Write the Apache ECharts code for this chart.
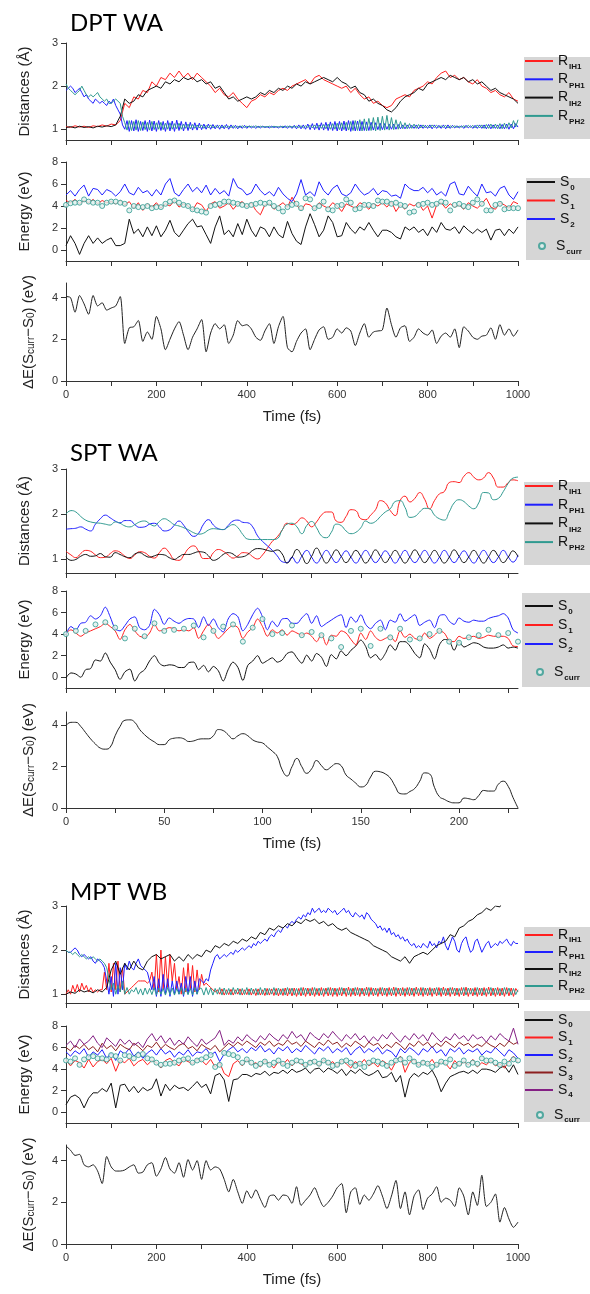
<!DOCTYPE html>
<html>
<head>
<meta charset="utf-8">
<script src="https://cdn.jsdelivr.net/npm/echarts@6/dist/echarts.min.js"></script>
<style>html,body{margin:0;padding:0;background:#fff}#c{width:590px;height:1294px}</style>
</head>
<body>
<div id="c"></div>
<script>
// ---------- sample times ----------
function range(a,b,s){const r=[];for(let x=a;x<=b+1e-9;x+=s)r.push(+x.toFixed(2));return r;}
const T10 = range(0,1000,10);   // 101 samples
const T5  = range(0,1000,5);    // 201 samples
const TS  = range(0,230,2.5);   // 93 samples
const TS5 = range(0,230,5);     // 47 samples

// ---------- tick labels ----------
const xTicksLong = range(0,1000,100), xLabelsLong = [0,200,400,600,800,1000];
const xTicksShort = range(0,225,25),  xLabelsShort = [0,50,100,150,200];
const distTicks = [1,2,3], energyTicks = [0,2,4,6,8], dETicks = [0,2,4];

// ================= DPT WA =================
const dpt_RIH1 = [1.06,1.04,1.08,1.05,1.07,1.04,1.08,1.06,1.1,1.07,
 1.12,1.1,1.2,1.6,1.5,1.75,1.7,1.9,1.85,2.1,
 2.0,2.2,2.15,2.3,2.2,2.35,2.2,2.3,2.15,2.3,
 2.2,2.1,2.0,1.85,1.95,1.8,1.75,1.85,1.7,1.6,
 1.5,1.65,1.7,1.8,1.75,1.85,1.8,1.9,1.95,1.9,
 2.0,2.05,2.1,2.15,2.05,2.2,2.25,2.15,2.1,2.05,
 2.0,1.95,2.0,1.85,1.95,1.8,1.7,1.75,1.6,1.65,
 1.55,1.5,1.55,1.7,1.75,1.8,1.75,1.9,1.95,2.0,
 2.1,2.05,2.2,2.3,2.35,2.2,2.25,2.15,2.2,2.1,
 2.05,2.15,2.0,1.95,1.85,1.9,1.8,1.75,1.85,1.7,
 1.65];
const dpt_RIH2 = [1.04,1.06,1.03,1.07,1.04,1.06,1.03,1.07,1.05,1.08,
 1.06,1.1,1.3,1.7,1.6,1.65,1.8,1.75,1.9,1.95,
 2.0,1.95,2.1,2.05,2.15,2.1,2.2,2.15,2.2,2.1,
 2.15,2.05,2.1,1.95,2.0,1.85,1.7,1.75,1.65,1.7,
 1.75,1.7,1.75,1.85,1.8,1.9,1.85,1.95,1.9,2.0,
 1.95,2.05,2.0,2.1,2.05,2.1,2.15,2.2,2.15,2.1,
 2.2,2.1,2.05,1.95,2.0,1.85,1.8,1.65,1.7,1.6,
 1.55,1.45,1.4,1.5,1.65,1.75,1.8,1.85,1.95,1.9,
 2.05,2.1,2.15,2.2,2.15,2.25,2.2,2.15,2.2,2.1,
 2.15,2.05,2.1,2.0,1.9,1.95,1.85,1.8,1.75,1.7,
 1.6];
const dpt_RPH1 = [1.9,1.95,2.0,1.95,1.85,1.9,1.95,1.85,1.75,1.8, 1.7,1.65,1.6,1.7,1.65,1.6,1.65,1.6,1.55,1.65,
 1.6,1.7,1.55,1.45,1.35,1.1,1.0,1.2,0.95,1.2, 0.96,1.22,0.95,1.18,0.97,1.2,0.95,1.21,0.96,1.19,
 0.95,1.2,0.97,1.18,0.95,1.2,0.96,1.19,0.95,1.21, 0.97,1.18,0.96,1.17,0.97,1.16,0.98,1.15,0.98,1.14,
 0.99,1.12,1.0,1.12,1.0,1.11,1.01,1.1,1.0,1.1, 1.01,1.11,1.0,1.1,1.02,1.09,1.01,1.08,1.02,1.09,
 1.02,1.08,1.03,1.07,1.02,1.07,1.03,1.07,1.04,1.06, 1.03,1.07,1.04,1.06,1.03,1.07,1.03,1.08,1.02,1.08,
 1.02,1.09,1.01,1.1,1.01,1.1,1.0,1.12,0.99,1.13, 0.99,1.14,0.98,1.15,0.98,1.16,0.97,1.17,0.97,1.18,
 0.96,1.18,0.96,1.19,0.96,1.2,0.95,1.2,0.96,1.19, 0.96,1.18,0.97,1.17,0.97,1.16,0.98,1.15,0.99,1.14,
 0.99,1.13,1.0,1.12,1.0,1.12,1.0,1.11,1.01,1.1, 1.01,1.1,1.02,1.09,1.02,1.1,1.01,1.1,1.02,1.09,
 1.02,1.1,1.01,1.1,1.02,1.09,1.02,1.1,1.01,1.1, 1.02,1.09,1.03,1.08,1.03,1.08,1.02,1.09,1.03,1.08,
 1.02,1.09,1.02,1.1,1.02,1.1,1.01,1.11,1.01,1.1, 1.02,1.1,1.01,1.11,1.01,1.12,1.0,1.12,1.01,1.13,
 1.05];
const dpt_RPH2 = [2.05,1.95,1.9,1.85,1.8,1.85,1.9,2.0,1.9,1.8, 1.75,1.8,1.75,1.8,1.85,1.75,1.7,1.65,1.7,1.6,
 1.6,1.65,1.7,1.65,1.6,1.3,1.15,0.98,1.2,0.97, 1.18,0.98,1.2,0.97,1.17,0.99,1.16,0.98,1.18,0.99,
 1.15,1.0,1.16,0.99,1.14,1.0,1.15,1.0,1.13,1.01, 1.14,1.0,1.12,1.02,1.12,1.01,1.11,1.02,1.1,1.03,
 1.1,1.02,1.09,1.03,1.1,1.03,1.08,1.04,1.09,1.03, 1.08,1.04,1.07,1.04,1.08,1.03,1.07,1.04,1.08,1.04,
 1.07,1.05,1.07,1.04,1.08,1.04,1.07,1.05,1.06,1.05, 1.07,1.04,1.07,1.05,1.06,1.05,1.07,1.04,1.07,1.05,
 1.06,1.05,1.07,1.04,1.08,1.03,1.08,1.04,1.09,1.03, 1.1,1.02,1.1,1.02,1.11,1.01,1.12,1.0,1.13,1.0,
 1.14,0.99,1.15,0.99,1.16,0.98,1.18,0.97,1.2,0.97, 1.22,0.96,1.24,0.96,1.25,0.97,1.27,0.96,1.28,0.97,
 1.3,0.98,1.32,0.98,1.27,0.99,1.22,1.0,1.18,1.01, 1.15,1.01,1.13,1.02,1.12,1.02,1.11,1.03,1.1,1.03,
 1.09,1.03,1.1,1.04,1.09,1.04,1.08,1.04,1.09,1.03, 1.08,1.04,1.08,1.04,1.07,1.05,1.08,1.04,1.09,1.04,
 1.09,1.03,1.1,1.03,1.1,1.02,1.11,1.02,1.12,1.02, 1.12,1.01,1.13,1.01,1.14,1.02,1.15,1.03,1.2,1.05,
 1.22];
const dpt_S0 = [0.4,1.3,0.6,-0.4,0.6,1.3,0.6,1.1,0.6,0.9,
 1.1,0.4,0.4,0.6,2.8,1.5,1.9,1.2,2.1,1.3,
 2.2,1.2,1.8,2.7,1.6,1.2,1.8,2.4,2.8,2.1,
 2.2,1.4,0.6,2.1,3.1,1.4,1.8,1.2,2.4,1.4,
 2.8,1.8,1.2,2.1,1.9,1.2,2.1,1.4,1.1,2.6,
 1.5,0.8,0.5,2.1,3.3,2.3,1.2,1.8,3.1,2.5,
 1.2,1.3,2.5,1.9,1.5,2.1,1.8,2.5,1.8,1.2,
 1.8,1.8,1.6,1.2,1.0,2.1,1.8,2.1,1.6,1.9,
 1.3,2.1,1.6,2.5,1.9,1.8,2.1,1.5,2.2,1.8,
 1.5,1.9,1.6,1.9,0.9,1.8,1.9,1.3,1.9,1.5,
 2.1];
const dpt_S1 = [4.5,4.3,4.6,4.2,4.5,4.3,4.6,4.2,4.5,4.3,
 4.4,4.2,4.5,4.1,4.4,3.8,4.3,3.6,4.2,3.9,
 4.3,3.8,4.2,4.0,4.5,3.9,4.2,4.0,3.6,4.3,
 4.1,3.5,4.2,4.4,3.8,4.0,4.3,3.7,4.2,4.4,
 3.9,4.3,3.6,3.2,4.1,4.2,3.7,4.0,4.3,3.9,
 4.8,4.1,3.6,4.2,4.1,3.7,4.3,4.0,3.8,4.3,
 4.0,3.5,4.2,4.0,3.8,4.3,4.1,3.7,4.2,4.0,
 4.3,3.9,4.4,3.5,4.1,3.7,4.2,4.0,4.3,3.6,
 4.0,2.9,4.1,4.3,3.8,4.2,3.9,4.1,3.7,4.3,
 4.0,3.8,4.2,4.7,3.9,3.7,4.3,4.1,3.8,4.4,
 4.2];
const dpt_S2 = [5.0,5.4,4.9,5.5,5.9,4.9,5.6,5.5,5.0,5.5,
 5.3,4.9,5.3,6.0,5.2,5.0,5.7,5.2,5.4,4.9,
 5.5,5.0,6.0,6.5,5.2,4.9,5.5,6.0,5.3,5.7,
 5.2,5.9,5.0,5.6,5.1,5.4,4.9,6.5,5.7,5.5,
 5.0,5.2,6.0,5.4,5.0,5.3,4.9,5.7,5.1,4.7,
 4.4,5.1,6.4,5.0,5.3,4.9,6.2,5.4,5.0,5.6,
 5.9,5.1,4.9,5.2,6.0,5.4,5.0,5.2,5.6,5.0,
 5.4,5.3,4.9,5.0,4.7,6.0,5.6,5.4,5.4,5.7,
 5.2,5.6,5.0,5.3,4.9,6.0,6.2,5.1,5.0,5.8,
 5.3,4.9,6.0,5.2,5.3,4.9,5.6,5.8,5.0,4.6,
 5.3];
const dpt_Scurr = [4.1,4.25,4.3,4.3,4.6,4.4,4.3,4.3,4.0,4.3,
 4.4,4.4,4.3,4.2,3.6,4.0,3.9,3.9,4.0,3.8,
 3.9,3.9,4.2,4.4,4.5,4.3,4.1,4.0,3.7,3.6,
 3.5,3.4,4.0,4.1,4.2,4.4,4.4,4.3,4.2,4.1,
 4.0,4.1,4.2,4.3,4.2,4.3,4.0,3.8,3.5,3.9,
 4.1,4.2,3.8,4.7,4.6,3.8,4.0,4.4,3.7,3.6,
 4.0,4.1,4.6,4.3,3.7,3.8,4.1,4.1,4.0,4.5,
 4.4,4.4,4.2,4.3,4.1,4.0,3.4,3.5,4.1,4.2,
 4.3,4.1,4.2,4.4,4.3,3.6,4.1,4.2,4.0,3.9,
 4.3,4.6,4.2,3.6,3.6,4.1,4.2,3.7,3.8,3.8,
 3.8];
const dpt_dE = [4.05,4.0,3.3,4.1,3.7,3.2,4.1,3.6,3.75,3.4,
 3.5,3.6,4.05,1.8,2.55,2.6,2.9,1.9,2.35,2.0,
 3.1,2.5,1.5,2.0,2.5,2.85,2.2,1.5,2.1,2.5,
 2.95,1.4,2.3,2.75,2.5,2.7,1.8,2.2,2.9,2.65,
 2.7,2.5,2.1,1.95,2.4,2.75,1.8,2.6,3.1,1.6,
 1.4,1.9,2.3,2.5,1.5,2.0,2.45,2.6,2.0,2.1,
 2.5,2.3,2.55,2.4,1.7,2.3,2.75,2.1,2.35,2.4,
 2.45,3.5,2.7,2.1,2.55,2.65,1.9,2.1,2.5,2.3,
 2.2,2.45,1.8,2.15,2.3,2.1,2.5,1.6,2.6,2.4,
 2.1,2.0,2.15,2.2,2.55,2.0,2.7,2.2,2.5,2.15,
 2.45];

// ================= SPT WA (step 2.5 fs) =================
const spt_RIH1 = [1.18,1.1,1.04,1.13,1.2,1.18,1.1,1.04,1.05,1.13, 1.19,1.16,1.07,1.02,1.1,1.17,1.15,1.07,1.03,1.15,
 1.25,1.15,1.0,0.98,1.1,1.25,1.3,1.18,1.02,1.02, 1.15,1.22,1.18,1.1,1.03,1.08,1.15,1.14,1.06,1.01,
 1.1,1.25,1.4,1.5,1.65,1.8,1.77,1.82,1.92,1.85, 1.72,1.83,1.98,2.05,2.05,1.85,1.82,1.95,2.1,2.08,
 1.9,1.88,1.98,2.1,2.3,2.25,2.08,1.97,2.3,2.4, 2.27,2.35,2.48,2.33,2.12,2.3,2.45,2.5,2.7,2.72,
 2.7,2.84,2.92,2.82,2.76,2.8,2.92,2.8,2.6,2.6, 2.7,2.76,2.74];
const spt_RPH1 = [1.67,1.68,1.69,1.72,1.67,1.63,1.78,1.9,1.98,1.92, 1.85,1.81,1.86,1.86,1.77,1.71,1.72,1.78,1.8,1.72,
 1.63,1.65,1.75,1.85,1.75,1.6,1.51,1.58,1.78,1.88, 1.76,1.68,1.66,1.75,1.85,1.87,1.82,1.81,1.72,1.52,
 1.4,1.3,1.2,1.08,0.95,0.93,1.05,0.92,1.07,1.2, 1.05,0.92,1.06,1.2,1.06,0.93,1.06,1.19,1.05,0.92,
 1.06,1.2,1.06,0.93,1.05,1.19,1.06,0.92,1.06,1.2, 1.05,0.93,1.06,1.2,1.06,0.92,1.05,1.2,1.06,0.93,
 1.06,1.19,1.05,0.92,1.06,1.2,1.06,0.93,1.05,1.2, 1.06,0.94,1.1];
const spt_RIH2 = [1.06,0.98,1.0,1.07,1.11,1.07,1.08,1.13,1.06,1.05, 1.15,1.11,1.06,1.04,1.12,1.15,1.09,1.05,1.08,1.11,
 1.1,1.04,1.0,1.06,1.11,1.11,1.14,1.17,1.16,1.08, 0.98,1.02,1.11,1.15,1.12,1.05,1.06,1.11,1.2,1.24,
 1.23,1.2,1.18,1.21,1.12,0.92,1.05,1.22,1.08,0.91, 1.07,1.25,1.08,0.92,1.06,1.21,1.07,0.93,1.06,1.2,
 1.07,0.92,1.05,1.21,1.07,0.93,1.06,1.2,1.06,0.92, 1.06,1.21,1.07,0.93,1.06,1.2,1.06,0.92,1.05,1.21,
 1.07,0.93,1.06,1.2,1.06,0.92,1.06,1.2,1.07,0.93, 1.05,1.19,1.06];
const spt_RPH2 = [2.0,2.08,2.05,1.95,1.87,1.83,1.81,1.8,1.78,1.76, 1.83,1.8,1.74,1.72,1.77,1.83,1.85,1.79,1.74,1.84,
 1.9,1.85,1.77,1.74,1.7,1.65,1.59,1.56,1.58,1.65, 1.68,1.67,1.66,1.72,1.77,1.7,1.55,1.45,1.44,1.44,
 1.44,1.44,1.44,1.46,1.65,1.78,1.8,1.72,1.57,1.75, 1.84,1.7,1.52,1.48,1.6,1.78,1.75,1.63,1.57,1.6,
 1.7,1.85,1.8,1.84,1.95,2.05,2.12,2.28,2.3,2.15, 1.93,1.95,2.05,2.13,2.12,1.98,1.9,1.87,2.05,2.25,
 2.32,2.28,2.18,2.12,2.25,2.48,2.47,2.32,2.35,2.5, 2.68,2.8,2.82];
const spt_S0 = [-0.05,0.4,0.3,0.0,0.7,0.8,1.6,1.5,2.25,1.4, 0.7,-0.2,0.5,0.75,-0.35,0.35,0.7,1.5,2.0,1.3,
 1.05,1.15,1.1,0.9,0.9,1.35,1.4,0.7,1.1,0.5, 1.0,0.6,-0.35,0.7,1.4,0.9,-0.3,1.1,1.5,2.0,
 1.3,1.55,1.8,1.4,1.6,2.2,2.35,1.8,1.3,2.05, 1.5,2.2,1.85,1.0,2.1,1.7,2.45,2.0,2.5,2.9,
 3.45,2.85,1.8,2.1,1.6,2.2,3.0,2.5,3.3,3.3, 2.9,2.2,1.8,3.1,2.6,1.7,3.0,3.5,3.4,2.5,
 3.3,2.8,3.0,3.2,3.1,2.8,2.7,2.7,2.8,3.0, 2.7,2.8,2.7];
const spt_S1 = [4.1,4.4,4.1,3.8,4.1,4.3,4.5,4.7,5.0,4.7, 4.3,3.5,4.4,4.9,4.3,3.8,3.7,4.1,4.9,4.3,
 4.4,4.6,4.5,4.3,4.4,4.3,4.6,3.6,4.3,4.9, 4.3,3.6,4.0,4.5,4.8,4.6,3.6,4.2,4.6,5.4,
 4.7,3.8,4.4,4.1,4.4,3.9,4.3,4.1,3.9,4.1, 3.8,3.3,4.0,3.0,3.9,3.8,4.3,4.1,3.5,3.0,
 4.1,3.5,4.3,3.7,3.4,3.6,3.8,3.3,4.3,3.7, 4.0,3.6,3.5,4.1,3.6,3.9,4.3,4.1,3.4,3.3,
 3.8,3.6,3.7,3.8,3.6,3.7,3.9,3.8,3.8,3.8, 3.6,2.9,2.85];
const spt_S2 = [4.0,4.7,4.4,5.0,5.1,5.7,5.4,5.7,6.5,5.6, 4.5,4.3,4.8,5.4,5.6,4.6,4.4,4.8,6.3,5.8,
 4.9,5.5,5.2,5.0,5.3,5.45,5.4,4.6,5.6,4.8, 5.4,4.6,4.2,5.4,5.9,5.6,4.3,4.9,5.8,6.4,
 5.6,4.4,5.2,4.7,5.4,5.45,5.0,5.0,5.5,5.9, 5.0,5.7,4.7,5.0,5.3,5.6,5.8,4.6,5.6,5.1,
 5.8,4.9,4.5,5.0,5.3,4.4,5.3,5.1,5.9,5.2, 5.5,5.8,4.8,5.1,5.3,4.6,5.7,5.8,5.2,4.9,
 5.5,5.2,5.1,5.3,5.2,5.2,5.45,5.6,5.7,5.9, 5.5,4.4,4.1];
const spt_Scurr = [4.0,4.3,4.3,4.9,5.1,4.6,3.6,4.5,3.8,5.0,
 4.3,4.4,4.5,4.8,3.7,4.3,4.7,4.9,3.3,4.6,
 5.4,4.0,4.1,4.8,3.9,4.2,3.9,3.6,2.8,4.3,
 4.5,2.9,4.5,3.7,4.5,3.5,3.6,4.0,4.3,3.3,
 3.2,3.7,3.9,4.4,3.9,4.1,3.3];
const spt_dE = [4.0,4.15,4.15,3.95,3.65,3.35,3.1,2.9,2.85,2.95, 3.5,3.95,4.25,4.27,4.15,3.8,3.55,3.35,3.2,3.07,
 3.07,3.3,3.38,3.4,3.35,3.22,3.25,3.33,3.35,3.35, 3.5,3.8,3.75,3.55,3.35,3.5,3.6,3.5,3.3,3.2,
 3.15,2.95,2.75,2.5,1.85,1.55,2.0,2.4,2.0,1.68, 1.9,2.3,2.05,1.85,2.0,2.15,2.05,1.6,1.4,1.2,
 1.02,1.1,1.5,1.78,1.75,1.65,1.45,1.05,0.7,0.68, 0.8,0.95,1.3,1.7,1.65,1.0,0.55,0.42,0.3,0.25,
 0.25,0.48,0.45,0.4,0.6,0.85,0.82,0.82,1.15,1.3, 1.05,0.5,0.0];

// ================= MPT WB =================
const mpt_RIH1 = [1.0,1.1,1.0,1.2,1.05,1.22,1.05,1.25,1.1,1.2, 1.05,1.15,1.05,1.1,1.05,1.1,1.1,1.5,1.1,1.7,
 1.05,1.7,1.1,1.75,1.05,1.6,1.0,1.05,1.1,1.15, 1.2,1.25,1.3,1.3,1.3,1.3,1.25,1.3,1.5,1.1,
 1.9,1.05,2.0,1.1,1.85,1.15,1.9,1.3,1.7,1.1, 1.4,1.0,1.6,1.05,1.7,1.1,1.65,1.05,1.55,1.1,
 1.45,1.2,1.25,1.2,1.15,1.1,1.05,1.1,1.0,1.12, 0.98,1.1,0.99,1.11,0.98,1.1,1.0,1.12,0.98,1.1,
 0.99,1.12,0.98,1.11,0.97,1.12,0.98,1.1,0.97,1.13, 0.98,1.12,0.97,1.13,0.96,1.12,0.97,1.14,0.96,1.13,
 0.96,1.14,0.95,1.13,0.96,1.15,0.95,1.14,0.96,1.15, 0.95,1.13,0.96,1.15,0.95,1.14,0.96,1.15,0.95,1.14,
 0.95,1.15,0.96,1.14,0.95,1.16,0.95,1.14,0.96,1.15, 0.95,1.14,0.96,1.16,0.95,1.15,0.96,1.14,0.95,1.15,
 0.96,1.14,0.95,1.15,0.96,1.16,0.95,1.14,0.96,1.15, 0.95,1.15,0.96,1.14,0.95,1.16,0.96,1.15,0.95,1.14,
 0.96,1.15,0.95,1.14,0.96,1.15,0.95,1.16,0.96,1.14, 0.95,1.15,0.96,1.14,0.95,1.15,0.96,1.16,0.95,1.14,
 0.96,1.15,0.95,1.14,0.96,1.15,0.95,1.16,0.96,1.14, 0.95,1.15,0.96,1.14,0.95,1.15,0.96,1.14,0.95,1.13,
 1.05];
const mpt_RPH1 = [2.0,1.95,1.95,2.0,2.05,2.0,1.9,1.85,1.9,1.85, 1.8,1.85,1.75,1.7,1.8,1.75,1.7,1.6,1.3,1.0,
 1.4,0.95,1.7,1.0,1.6,1.1,1.7,1.55,1.75,1.6, 1.55,1.7,1.8,1.65,1.6,1.55,1.5,1.3,1.1,1.4,
 0.95,1.35,0.95,1.45,1.0,1.35,0.95,1.3,1.0,1.3, 1.0,1.25,0.95,1.4,1.0,1.4,0.95,1.3,1.0,1.35,
 1.3,1.25,1.35,1.3,1.55,1.7,1.85,1.9,1.8,1.85, 1.9,1.85,1.9,1.95,1.9,2.0,1.95,2.0,2.05,2.0,
 2.05,2.1,2.05,2.15,2.1,2.2,2.15,2.2,2.25,2.2, 2.3,2.35,2.3,2.4,2.45,2.4,2.5,2.55,2.5,2.6,
 2.65,2.6,2.7,2.75,2.7,2.8,2.75,2.85,2.8,2.95, 2.85,2.9,2.95,2.85,2.9,2.85,2.95,2.9,2.85,2.9,
 2.8,2.85,2.9,2.95,2.85,2.9,2.8,2.75,2.85,2.8, 2.75,2.8,2.7,2.85,2.8,2.7,2.65,2.6,2.5,2.55,
 2.45,2.5,2.4,2.5,2.35,2.4,2.3,2.35,2.25,2.3, 2.2,2.25,2.15,2.1,2.15,2.05,2.1,2.05,2.15,2.1,
 2.05,2.2,2.1,2.15,2.05,2.2,2.15,2.3,2.1,2.0, 2.15,2.3,2.2,2.0,1.95,2.15,2.25,2.3,2.1,1.95,
 2.0,2.2,2.25,2.1,1.95,2.05,2.15,2.2,2.05,2.1, 2.15,2.1,2.2,2.15,2.2,2.25,2.15,2.1,2.2,2.15,
 2.15];
const mpt_RIH2 = [1.0,1.05,1.02,1.1,1.05,1.08,1.03,1.1,1.05,1.15,
 1.55,1.75,1.45,1.7,1.55,1.75,1.6,1.55,1.75,1.85,
 1.9,1.8,1.85,1.9,1.75,1.85,1.75,1.9,1.8,1.9,
 1.85,2.0,1.95,2.1,2.05,2.15,2.1,2.2,2.15,2.25,
 2.2,2.3,2.25,2.4,2.35,2.5,2.45,2.55,2.5,2.6,
 2.55,2.65,2.6,2.7,2.65,2.7,2.6,2.65,2.55,2.6,
 2.5,2.45,2.5,2.4,2.35,2.3,2.25,2.2,2.1,2.05,
 2.0,1.95,1.85,1.8,1.75,1.85,1.7,1.85,1.9,1.95,
 1.9,2.0,2.1,2.15,2.2,2.35,2.3,2.5,2.55,2.65,
 2.7,2.8,2.85,2.95,2.9,3.0,2.98,3.2,3.25,3.3,
 3.35];
const mpt_RPH2 = [2.0,1.95,1.95,1.9,1.95,1.9,1.85,1.9,1.85,1.8, 1.85,1.8,1.85,1.8,1.75,1.8,1.75,1.7,1.6,1.35,
 1.1,1.25,1.0,1.2,1.05,1.3,1.0,1.15,1.0,1.1, 1.05,1.15,1.0,1.12,0.98,1.14,1.0,1.13,0.99,1.15,
 0.98,1.14,1.0,1.13,0.98,1.15,0.99,1.14,0.98,1.13, 1.0,1.15,0.98,1.14,0.99,1.13,0.98,1.15,1.0,1.14,
 1.13,0.98,1.15,0.99,1.14,0.98,1.13,1.0,1.15,0.98, 1.14,0.99,1.13,0.98,1.15,1.0,1.14,0.98,1.13,0.99,
 1.15,0.98,1.14,1.0,1.13,0.98,1.15,0.99,1.14,0.98, 1.13,1.0,1.15,0.98,1.14,0.99,1.13,0.98,1.15,1.0,
 1.14,0.98,1.13,0.99,1.15,0.98,1.14,1.0,1.13,0.98, 1.15,0.99,1.14,0.98,1.13,1.0,1.15,0.98,1.14,0.99,
 1.13,0.98,1.15,1.0,1.14,0.98,1.13,0.99,1.15,0.98, 1.14,1.0,1.13,0.98,1.15,0.99,1.14,0.98,1.13,1.0,
 1.15,0.98,1.14,0.99,1.13,0.98,1.15,1.0,1.14,0.98, 1.13,0.99,1.15,0.98,1.14,1.0,1.13,0.98,1.15,0.99,
 1.14,0.98,1.13,1.0,1.15,0.98,1.14,0.99,1.13,0.98, 1.15,1.0,1.14,0.98,1.13,0.99,1.15,0.98,1.14,1.0,
 1.13,0.98,1.15,0.99,1.14,0.98,1.13,1.0,1.15,0.98, 1.14,0.99,1.13,0.98,1.15,1.0,1.14,0.98,1.13,0.99,
 1.1];
const mpt_S0 = [0.7,1.4,1.6,1.3,0.4,1.3,1.8,1.8,2.2,1.9,
 2.7,0.4,2.5,2.6,1.9,2.4,1.8,2.3,2.0,2.2,
 3.1,1.5,2.6,2.0,2.5,2.2,2.3,2.0,2.4,2.85,
 2.3,2.6,1.7,3.4,3.6,3.0,1.0,3.0,3.1,3.5,
 3.5,3.3,3.6,3.5,3.8,3.4,3.7,3.6,3.9,3.6,
 4.0,3.7,3.85,4.1,3.6,4.0,4.1,3.7,4.1,3.9,
 3.6,4.0,3.4,3.9,3.6,4.0,3.6,3.4,3.6,3.9,
 3.2,3.3,3.7,2.8,3.4,1.4,3.1,3.6,3.3,3.7,
 3.5,3.9,3.1,1.9,2.7,3.3,3.5,3.7,3.8,3.6,
 3.9,3.6,4.0,4.0,3.9,3.7,4.1,4.3,3.7,4.4,
 3.5];
const mpt_S1 = [4.8,4.3,4.8,4.6,4.1,4.9,4.2,4.7,4.9,4.5,
 5.0,3.8,4.8,4.6,5.0,4.3,4.7,4.9,4.4,4.8,
 4.6,4.1,4.8,5.0,4.6,4.3,4.9,4.7,4.5,4.9,
 4.8,4.4,4.9,4.2,4.6,3.6,3.3,4.5,4.8,4.3,
 4.9,4.4,4.6,4.2,4.8,4.5,4.1,4.7,4.4,4.9,
 4.3,4.7,4.5,4.2,4.8,4.6,4.3,4.9,4.4,4.7,
 4.2,4.8,4.5,4.1,4.7,4.4,4.9,4.3,4.6,4.2,
 4.8,4.5,3.9,4.7,5.2,3.7,4.6,4.9,4.3,4.8,
 4.4,4.9,4.2,4.7,4.5,4.0,4.8,4.3,4.7,4.4,
 4.9,4.2,4.6,4.4,4.8,4.3,4.5,4.1,4.7,5.2,
 4.6];
const mpt_S2 = [5.6,5.2,5.7,5.4,5.9,5.1,5.6,5.3,5.8,5.0,
 5.5,4.8,5.7,5.4,5.9,5.2,5.6,5.0,5.5,5.8,
 5.3,5.9,5.4,5.7,5.1,5.6,5.3,5.8,5.2,5.6,
 5.5,5.9,5.3,5.6,4.7,5.4,5.8,6.1,5.6,5.9,
 5.5,6.0,5.7,6.2,5.6,5.9,5.4,6.0,5.7,6.1,
 5.5,5.9,5.6,6.2,5.8,5.4,6.0,5.7,6.1,5.5,
 5.9,5.6,6.0,5.3,5.8,6.1,5.5,5.9,5.6,6.0,
 5.4,5.8,5.6,5.1,5.9,5.5,6.0,5.7,5.3,5.9,
 5.6,6.1,5.5,5.8,5.2,5.9,5.6,6.0,5.4,5.8,
 5.6,5.9,5.3,5.7,5.5,6.0,5.6,5.2,5.8,5.5,
 5.0];
const mpt_S3 = [6.0,5.7,6.2,5.9,6.3,5.8,6.1,5.6,6.4,5.9,
 6.2,5.7,6.3,6.0,5.8,6.4,6.1,5.7,6.2,6.0,
 6.5,5.9,6.3,6.0,5.8,6.2,6.4,5.9,6.1,5.7,
 6.3,6.0,5.8,6.2,5.6,6.0,6.4,6.1,6.5,6.2,
 6.6,6.3,6.0,6.5,6.2,6.6,6.1,6.4,6.2,6.7,
 6.3,6.5,6.1,6.6,6.3,6.0,6.5,6.2,6.7,6.3,
 6.5,6.0,6.4,6.1,6.6,6.3,6.0,6.5,6.2,6.4,
 5.9,6.3,6.0,6.5,6.2,5.8,6.4,6.1,6.6,6.2,
 6.5,6.0,6.4,6.1,6.6,6.3,6.0,6.5,6.2,6.4,
 6.0,6.3,6.1,6.5,6.2,6.0,6.4,6.1,6.6,6.3,
 6.5];
const mpt_S4 = [6.2,6.6,6.0,6.8,6.3,6.6,7.1,6.4,6.0,6.9,
 6.5,6.1,6.8,6.3,6.7,6.2,6.5,6.0,6.8,7.3,
 6.6,7.1,6.4,6.9,6.2,6.7,6.3,7.0,6.5,6.1,
 6.8,6.3,6.6,6.9,7.6,6.2,6.7,6.4,7.0,6.6,
 7.2,6.8,6.5,7.1,6.7,7.3,6.9,6.6,7.2,6.8,
 7.5,6.9,7.2,6.6,7.4,7.0,6.7,7.3,6.9,7.5,
 7.0,6.6,7.2,6.8,7.3,6.7,7.1,6.5,7.0,6.6,
 7.2,6.8,7.4,6.9,6.5,7.1,6.7,7.3,6.8,7.2,
 6.6,7.4,6.9,6.5,7.0,6.7,7.3,6.8,7.1,6.6,
 7.2,6.8,7.0,6.5,7.1,6.7,7.3,6.9,6.6,7.8,
 6.3];
const mpt_Scurr = [4.8,4.7,5.0,4.4,4.9,5.1,5.2,5.0,5.0,4.9,
 5.3,5.2,4.8,5.3,5.2,5.0,5.3,5.4,5.0,4.9,
 4.6,4.4,4.5,4.5,4.6,4.8,4.9,5.0,4.6,4.8,
 4.9,5.1,5.3,4.2,4.4,5.5,5.4,5.3,5.1,4.6,
 4.9,4.6,4.3,4.5,4.7,4.4,4.6,4.8,4.5,4.3,
 4.6,4.8,4.7,4.4,4.6,4.7,4.5,4.8,4.6,4.3,
 4.4,4.7,4.8,4.6,4.3,4.5,4.2,4.6,4.8,4.7,
 4.5,4.3,4.6,4.8,4.9,4.6,5.0,4.7,4.4,4.6,
 4.5,4.2,4.4,4.7,4.6,4.9,4.3,4.5,4.8,4.4,
 4.6,4.5,5.0,4.8,4.8,4.6,4.4,4.7,4.5,4.9,
 4.8];
const mpt_dE = [4.7,4.5,4.25,4.3,3.8,3.7,3.8,3.5,2.9,4.2,
 3.7,3.5,3.5,3.55,3.7,3.8,3.4,3.45,3.8,3.9,
 3.25,3.6,4.15,3.6,3.4,3.9,3.2,4.05,3.55,4.0,
 3.1,4.0,3.55,3.7,3.6,3.1,2.5,3.1,2.5,1.95,
 2.55,2.2,2.6,2.15,1.75,2.3,2.35,2.1,2.35,2.3,
 1.95,2.75,1.85,2.1,2.35,2.7,2.2,1.8,2.0,2.3,
 2.7,2.9,1.5,2.5,2.7,1.9,2.35,2.1,2.4,2.8,
 2.3,1.7,2.3,3.05,1.7,2.5,1.4,2.3,2.6,1.65,
 2.2,2.4,2.75,2.0,2.2,2.1,1.8,2.7,2.3,1.4,
 2.5,1.85,3.3,1.8,2.0,2.4,1.05,1.75,1.2,0.8,
 1.05];

// ---------- build chart ----------
const FONT = 'Liberation Sans';
const C = {red:'#ff1f1f', blue:'#1f1fff', black:'#111111', teal:'#2f9a90', s3:'#8c1f1f', s4:'#842084'};
function P(t,v){const n=Math.min(t.length,v.length),o=[];for(let i=0;i<n;i++)o.push([t[i],v[i]]);return o;}

const panels = [
 {top:43,  height:97,  min:0.75, max:3,    kind:'A', xmax:1000},
 {top:162, height:99,  min:-1,   max:8,    kind:'B', xmax:1000},
 {top:283, height:98,  min:0,    max:4.7,  kind:'C', xmax:1000},
 {top:469, height:104, min:0.7,  max:3,    kind:'A', xmax:230},
 {top:591, height:97,  min:-1,   max:8,    kind:'B', xmax:230},
 {top:712, height:96,  min:0,    max:4.65, kind:'C', xmax:230},
 {top:906, height:97,  min:0.8,  max:3,    kind:'A', xmax:1000},
 {top:1026,height:97,  min:-1,   max:8,    kind:'B', xmax:1000},
 {top:1145,height:99,  min:0,    max:4.75, kind:'C', xmax:1000}
];
const axisLineStyle = {color:'#333', width:1};
const tickLabel = {fontSize:11, color:'#333', fontFamily:FONT, formatter:v=>String(v)};
const nameStyle = {fontSize:15, color:'#222', fontFamily:FONT,
  rich:{m:{fontSize:15,fontFamily:FONT,color:'#222'}, s:{fontSize:10,fontFamily:FONT,color:'#222',verticalAlign:'bottom',lineHeight:12}}};

const grid=[], xAxis=[], yAxis=[];
panels.forEach((p,i)=>{
  grid.push({left:66, width:452, top:p.top, height:p.height});
  const long = p.xmax===1000;
  xAxis.push({type:'value', gridIndex:i, min:0, max:p.xmax,
    axisLine:{show:true, onZero:false, lineStyle:axisLineStyle},
    axisTick:{show:true, length:5, customValues: long?xTicksLong:xTicksShort, lineStyle:axisLineStyle},
    axisLabel:{show:p.kind==='C', customValues: long?xLabelsLong:xLabelsShort, margin:8, ...tickLabel},
    splitLine:{show:false},
    name: p.kind==='C' ? 'Time (fs)' : '', nameLocation:'middle', nameGap:28,
    nameTextStyle:{fontSize:15, color:'#222', fontFamily:FONT}});
  const yt = p.kind==='A'?distTicks:(p.kind==='B'?energyTicks:dETicks);
  const nm = p.kind==='A'?'Distances (Å)':(p.kind==='B'?'Energy (eV)':'{m|ΔE(S}{s|curr}{m|−S}{s|0}{m|) (eV)}');
  yAxis.push({type:'value', gridIndex:i, min:p.min, max:p.max,
    axisLine:{show:true, onZero:false, lineStyle:axisLineStyle},
    axisTick:{show:true, length:5, customValues:yt, lineStyle:axisLineStyle},
    axisLabel:{customValues:yt, margin:8, ...tickLabel},
    splitLine:{show:false},
    name:nm, nameLocation:'middle', nameGap: p.kind==='C'?30:34, nameTextStyle:nameStyle});
});

function line(name, gi, t, v, color, smooth){
  return {type:'line', name, xAxisIndex:gi, yAxisIndex:gi, data:P(t,v), symbol:'none', showSymbol:false,
    smooth: smooth||false, lineStyle:{color, width:1}, itemStyle:{color}, animation:false, z:2};
}
function dots(name, gi, t, v){
  return {type:'scatter', name, xAxisIndex:gi, yAxisIndex:gi, data:P(t,v), symbol:'circle', symbolSize:5,
    itemStyle:{color:'#dff0ee', borderColor:C.teal, borderWidth:1}, animation:false, z:3};
}
const series = [
 // DPT WA
 line('R_IH1',0,T10,dpt_RIH1,C.red), line('R_PH1',0,T5,dpt_RPH1,C.blue),
 line('R_IH2',0,T10,dpt_RIH2,C.black), line('R_PH2',0,T5,dpt_RPH2,C.teal),
 line('S0',1,T10,dpt_S0,C.black), line('S1',1,T10,dpt_S1,C.red), line('S2',1,T10,dpt_S2,C.blue),
 dots('Scurr',1,T10,dpt_Scurr),
 line('dE1',2,T10,dpt_dE,'#222',0.25),
 // SPT WA
 line('R_IH1',3,TS,spt_RIH1,C.red,true), line('R_PH1',3,TS,spt_RPH1,C.blue,true),
 line('R_IH2',3,TS,spt_RIH2,C.black,true), line('R_PH2',3,TS,spt_RPH2,C.teal,true),
 line('S0',4,TS,spt_S0,C.black,0.3), line('S1',4,TS,spt_S1,C.red,0.3), line('S2',4,TS,spt_S2,C.blue,0.3),
 dots('Scurr',4,TS5,spt_Scurr),
 line('dE2',5,TS,spt_dE,'#222',true),
 // MPT WB
 line('R_IH1',6,T5,mpt_RIH1,C.red), line('R_PH1',6,T5,mpt_RPH1,C.blue),
 line('R_IH2',6,T10,mpt_RIH2,C.black), line('R_PH2',6,T5,mpt_RPH2,C.teal),
 line('S0',7,T10,mpt_S0,C.black), line('S1',7,T10,mpt_S1,C.red), line('S2',7,T10,mpt_S2,C.blue),
 line('S3',7,T10,mpt_S3,C.s3), line('S4',7,T10,mpt_S4,C.s4),
 dots('Scurr',7,T10,mpt_Scurr),
 line('dE3',8,T10,mpt_dE,'#222',0.25)
];

const LAB = {R_IH1:'{m|R}{s|IH1}', R_PH1:'{m|R}{s|PH1}', R_IH2:'{m|R}{s|IH2}', R_PH2:'{m|R}{s|PH2}',
  S0:'{m|S}{s|0}', S1:'{m|S}{s|1}', S2:'{m|S}{s|2}', S3:'{m|S}{s|3}', S4:'{m|S}{s|4}', Scurr:'{g|}{m|S}{s|curr}'};
function rich(lh){return {m:{fontSize:14,lineHeight:lh,fontFamily:FONT,color:'#111'},
  s:{fontSize:8,lineHeight:9,verticalAlign:'bottom',fontFamily:FONT,color:'#111',fontWeight:'bold',padding:[0,0,0,1]},
  g:{width:6}};}
function legend(names, left, top, gap, lh, dot){
  return {data:names, left, top, orient:'vertical', padding:0, itemGap:gap, selectedMode:false,
    icon: dot ? 'circle' : 'rect',
    itemWidth: dot?6:28, itemHeight: dot?6:2, formatter:n=>LAB[n],
    textStyle:{rich:rich(lh)}};
}
const legends = [
 legend(['R_IH1','R_PH1','R_IH2','R_PH2'],525,54,1.3,20),
 legend(['S0','S1','S2'],527,175,1.5,20), legend(['Scurr'],538,239,0,20,true),
 legend(['R_IH1','R_PH1','R_IH2','R_PH2'],525,479,1.7,20),
 legend(['S0','S1','S2'],525,599,2,20), legend(['Scurr'],536,665,0,20,true),
 legend(['R_IH1','R_PH1','R_IH2','R_PH2'],525,928,1,18),
 legend(['S0','S1','S2','S3','S4'],525,1013,1.5,18), legend(['Scurr'],536,1108,0,18,true)
];
const boxes = [[524,57,82],[526,178,82],[524,482,83],[522,593,94],[524,927,73],[524,1011,111]];
const graphic = boxes.map(b=>({type:'rect', left:b[0], top:b[1], shape:{width:590-b[0], height:b[2]},
  style:{fill:'#d6d6d6'}, z:-10, silent:true}));

const titleStyle = {fontFamily:'Lato', fontSize:24, fontWeight:'normal', color:'#000'};
const chart = echarts.init(document.getElementById('c'), null, {renderer:'canvas'});
chart.setOption({
  animation:false,
  backgroundColor:'#fff',
  title:[{text:'DPT WA',left:70,top:11,padding:0,textStyle:titleStyle},
         {text:'SPT WA',left:70,top:441,padding:0,textStyle:titleStyle},
         {text:'MPT WB',left:70,top:880,padding:0,textStyle:titleStyle}],
  grid, xAxis, yAxis, series, legend:legends, graphic
});
</script>
</body>
</html>
